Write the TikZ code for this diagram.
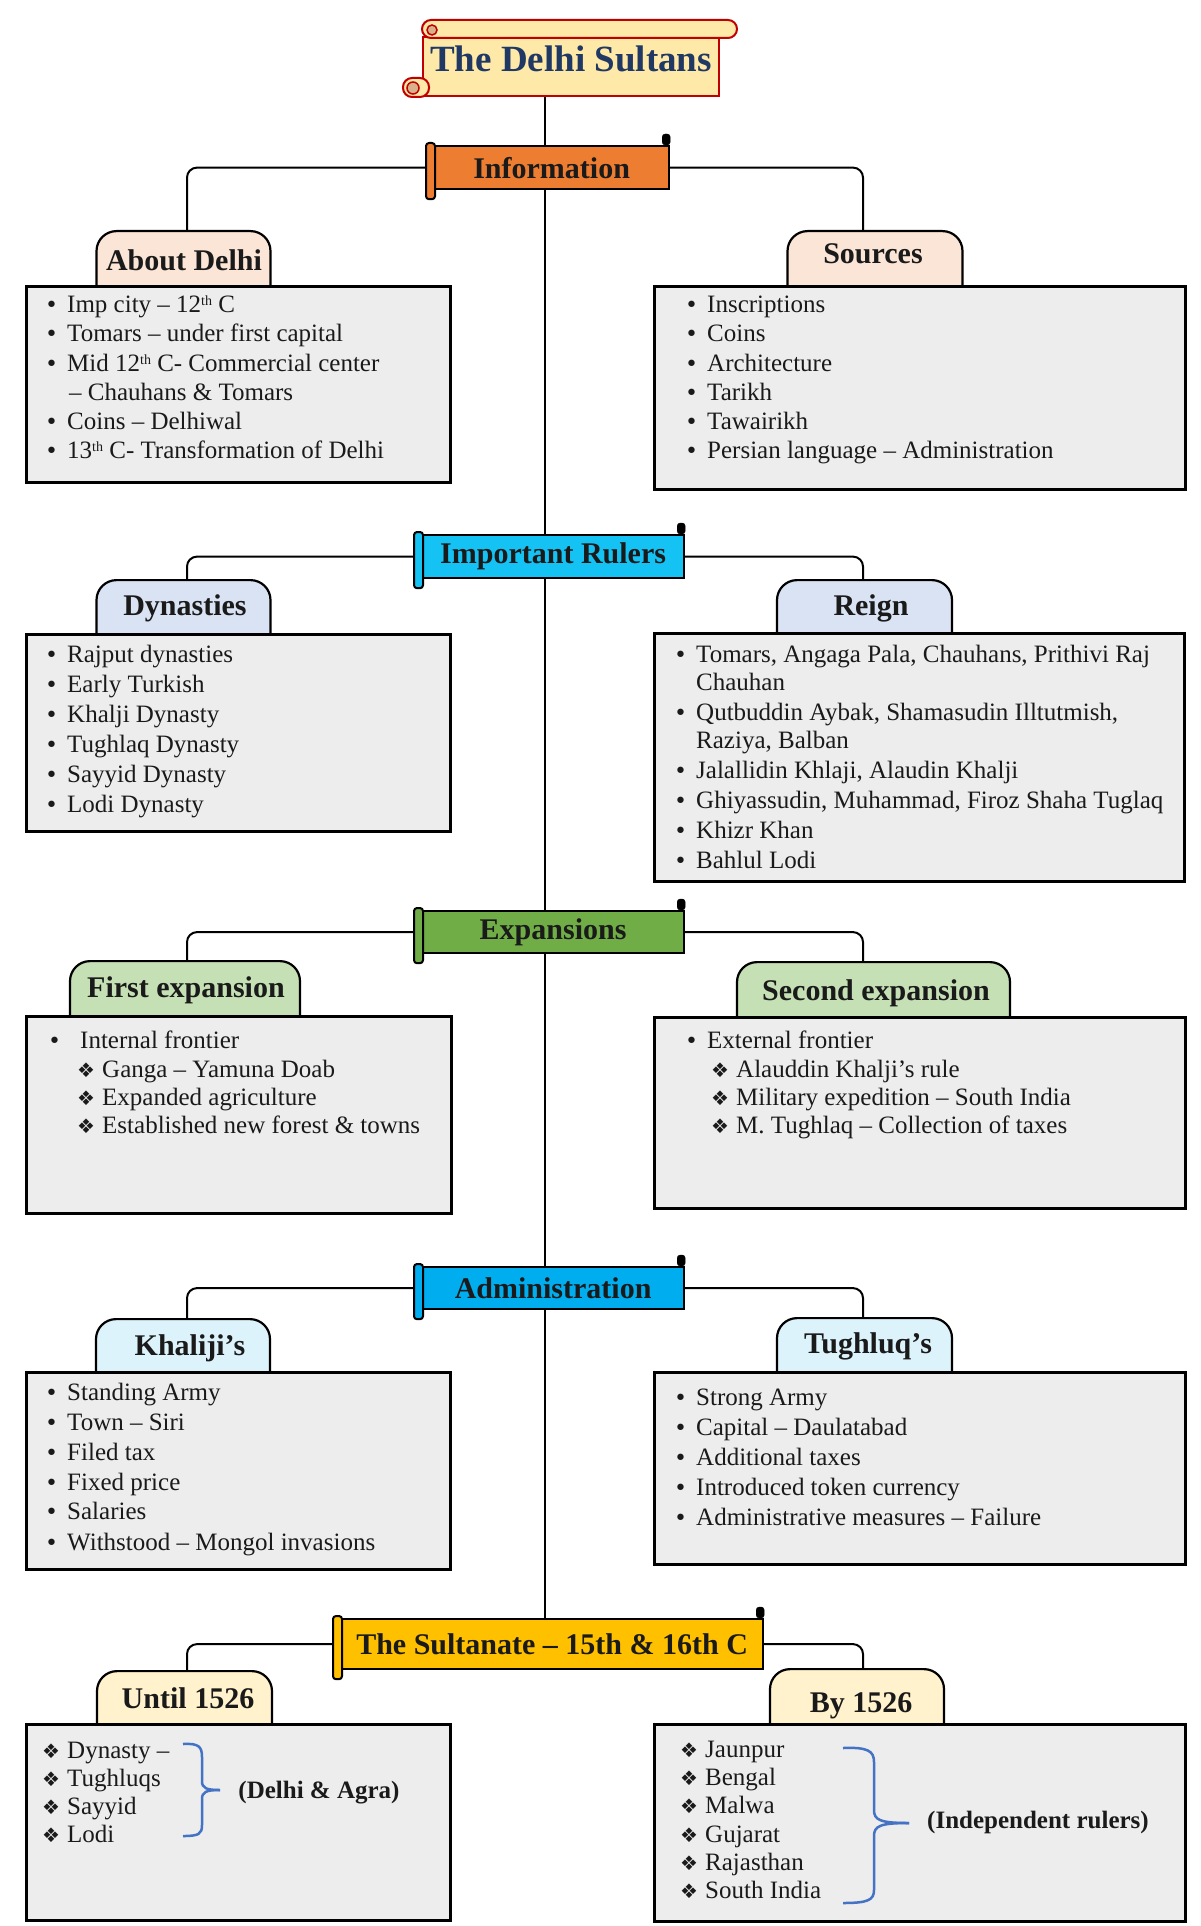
\documentclass[tikz,border=0pt]{standalone}
\usepackage{fontspec}
\setmainfont{Liberation Serif}
\newfontfamily\djv{DejaVu Sans}
\usetikzlibrary{calc}
\pgfdeclarelayer{background}
\pgfsetlayers{background,main}
\definecolor{peach}{HTML}{FBE5D6}
\definecolor{lblue}{HTML}{DAE3F3}
\definecolor{lgreen}{HTML}{C5E0B4}
\definecolor{lcyan}{HTML}{DDF3FC}
\definecolor{lyel}{HTML}{FFF2CC}
\definecolor{boxg}{HTML}{EDEDED}
\definecolor{orng}{HTML}{ED7D31}
\definecolor{cyanA}{HTML}{14C3F4}
\definecolor{cyanB}{HTML}{00AEEF}
\definecolor{grn}{HTML}{70AD47}
\definecolor{gold}{HTML}{FFC000}
\definecolor{tyel}{HTML}{FFE9A8}
\definecolor{dred}{HTML}{C00000}
\definecolor{navy}{HTML}{1F3864}
\definecolor{tanc}{HTML}{D8B08C}
\definecolor{brc}{HTML}{4472C4}
\definecolor{ink}{HTML}{1A1A1A}
\newcommand\bl{\makebox[22pt][l]{\djv\fontsize{22}{22}\selectfont •}}
\newcommand\blw{\makebox[32pt][l]{\djv\fontsize{22}{22}\selectfont •}}
\newcommand\dm{\makebox[25pt][l]{\djv\fontsize{20}{20}\selectfont ❖}}
\newcommand\thsup{\raisebox{7pt}{\fontsize{14}{14}\selectfont th}}
\newcommand\bandeco[2]{%
  \filldraw[fill=#2, draw=black, line width=2pt, rounded corners=3pt]
    ([xshift=-7pt,yshift=2pt]#1.north west) rectangle ([xshift=2pt,yshift=-9pt]#1.south west);
  \filldraw[fill=black, draw=black, rounded corners=3pt]
    ([xshift=-8pt]#1.north east) rectangle ([yshift=11pt]#1.north east);
}
\begin{document}
\begin{tikzpicture}[x=1pt,y=-1pt,
  conn/.style={line width=2pt, draw=black, rounded corners=10pt},
  tabshape/.style={draw=black, line width=2.2pt, rounded corners=20pt, anchor=north, minimum height=75pt, inner sep=0},
  boxshape/.style={draw=black, line width=2.5pt, fill=boxg, anchor=north west, inner sep=0},
  banshape/.style={draw=black, line width=2.2pt, anchor=north west, inner sep=0, font=\bfseries\fontsize{30}{30}\selectfont, text=ink},
  tabtxt/.style={anchor=base, inner sep=0, font=\bfseries\fontsize{30}{30}\selectfont, text=ink},
  txt/.style={anchor=base west, inner sep=0, font=\fontsize{25}{25}\selectfont, text=ink},
  btxt/.style={anchor=base, inner sep=0, font=\bfseries\fontsize{25}{25}\selectfont, text=ink},
  brace/.style={draw=brc, line width=2.5pt}]
\useasboundingbox (0,0) rectangle (1200,1926);

\coordinate (spine) at (545,0);
\coordinate (lx) at (187,0);
\coordinate (rx) at (863,0);

% ---------- title ----------
\node[draw=dred, line width=2pt, fill=tyel, minimum width=296pt, minimum height=59pt, anchor=north west, inner sep=0] (title) at (422,36) {};
\filldraw[fill=tyel, draw=dred, line width=2pt, rounded corners=9pt]
  ([yshift=16pt]title.north west) rectangle ([xshift=17pt,yshift=-2pt]title.north east);
\filldraw[fill=tanc, draw=dred, line width=1.5pt] ([xshift=10pt,yshift=6pt]title.north west) circle (5pt);
\filldraw[fill=tyel, draw=dred, line width=2pt, rounded corners=9pt]
  ([xshift=-19pt,yshift=19pt]title.south west) rectangle ([xshift=7pt]title.south west);
\filldraw[fill=tanc, draw=dred, line width=1.5pt] ([xshift=-9pt,yshift=9pt]title.south west) circle (6pt);
\node[inner sep=0, anchor=base, font=\bfseries\fontsize{37}{37}\selectfont, text=navy] (titletxt) at (571,72) {The Delhi Sultans};

% ---------- banners ----------
\node[banshape, fill=orng, minimum width=235pt, minimum height=43pt] (info) at (433,145) {Information};
\bandeco{info}{orng}
\node[banshape, fill=cyanA, minimum width=262pt, minimum height=43pt] (rulers) at (421,534) {Important Rulers};
\bandeco{rulers}{cyanA}
\node[banshape, fill=grn, minimum width=262pt, minimum height=42pt] (expans) at (421,910) {Expansions};
\bandeco{expans}{grn}
\node[banshape, fill=cyanB, minimum width=262pt, minimum height=42pt] (admin) at (421,1266) {Administration};
\bandeco{admin}{cyanB}
\node[banshape, fill=gold, minimum width=422pt, minimum height=50pt] (sult) at (340,1618) {The Sultanate – 15th \& 16th C};
\bandeco{sult}{gold}

% ---------- tabs ----------
\node[tabshape, fill=peach, minimum width=174pt] (tA) at (183.5,230) {};
\node[tabshape, fill=peach, minimum width=175pt] (tB) at (875,230) {};
\node[tabshape, fill=lblue, minimum width=174pt] (tC) at (183.5,579) {};
\node[tabshape, fill=lblue, minimum width=175pt] (tD) at (864.5,579) {};
\node[tabshape, fill=lgreen, minimum width=230pt] (tE) at (185,960) {};
\node[tabshape, fill=lgreen, minimum width=273pt] (tF) at (873.5,961) {};
\node[tabshape, fill=lcyan, minimum width=174pt] (tG) at (183,1318) {};
\node[tabshape, fill=lcyan, minimum width=175pt] (tH) at (864.5,1317) {};
\node[tabshape, fill=lyel, minimum width=175pt] (tI) at (184.5,1670) {};
\node[tabshape, fill=lyel, minimum width=174pt] (tJ) at (857,1668) {};

% ---------- boxes ----------
\node[boxshape, minimum width=424pt, minimum height=196pt] (bA) at (25,285) {};
\node[boxshape, minimum width=531pt, minimum height=203pt] (bB) at (653,285) {};
\node[boxshape, minimum width=424pt, minimum height=197pt] (bC) at (25,633) {};
\node[boxshape, minimum width=530pt, minimum height=248pt] (bD) at (653,632) {};
\node[boxshape, minimum width=425pt, minimum height=197pt] (bE) at (25,1015) {};
\node[boxshape, minimum width=531pt, minimum height=191pt] (bF) at (653,1016) {};
\node[boxshape, minimum width=424pt, minimum height=197pt] (bG) at (25,1371) {};
\node[boxshape, minimum width=531pt, minimum height=192pt] (bH) at (653,1371) {};
\node[boxshape, minimum width=424pt, minimum height=196pt] (bI) at (25,1723) {};
\node[boxshape, minimum width=531pt, minimum height=197pt] (bJ) at (653,1723) {};

% ---------- connectors ----------
\begin{pgfonlayer}{background}
\fill[white] (0,0) rectangle (1200,1926);
\draw[conn] (title.south -| spine) -- (sult.north -| spine);
\draw[conn] (info.west) -| (tA.north -| lx);
\draw[conn] (info.east) -| (tB.north -| rx);
\draw[conn] (rulers.west) -| (tC.north -| lx);
\draw[conn] (rulers.east) -| (tD.north -| rx);
\draw[conn] (expans.west) -| (tE.north -| lx);
\draw[conn] (expans.east) -| (tF.north -| rx);
\draw[conn] (admin.west) -| (tG.north -| lx);
\draw[conn] (admin.east) -| (tH.north -| rx);
\draw[conn] (sult.west) -| (tI.north -| lx);
\draw[conn] (sult.east) -| (tJ.north -| rx);
\end{pgfonlayer}

% ---------- tab labels ----------
\node[tabtxt] (lA) at (184,270) {About Delhi};
\node[tabtxt] (lB) at (873,263) {Sources};
\node[tabtxt] (lC) at (185,615) {Dynasties};
\node[tabtxt] (lD) at (871,615) {Reign};
\node[tabtxt] (lE) at (186,997) {First expansion};
\node[tabtxt] (lF) at (876,1000) {Second expansion};
\node[tabtxt] (lG) at (190,1355) {Khaliji’s};
\node[tabtxt] (lH) at (868,1353) {Tughluq’s};
\node[tabtxt] (lI) at (188,1708) {Until 1526};
\node[tabtxt] (lJ) at (861,1712) {By 1526};

% ---------- About Delhi ----------
\node[txt] (a1) at (45,312) {\bl Imp city – 12\thsup{} C};
\node[txt] (a2) at (45,341) {\bl Tomars – under first capital};
\node[txt] (a3) at (45,371) {\bl Mid 12\thsup{} C- Commercial center};
\node[txt] (a4) at (69,400) {– Chauhans \& Tomars};
\node[txt] (a5) at (45,429) {\bl Coins – Delhiwal};
\node[txt] (a6) at (45,458) {\bl 13\thsup{} C- Transformation of Delhi};

% ---------- Sources ----------
\node[txt] (s1) at (685,312) {\bl Inscriptions};
\node[txt] (s2) at (685,341) {\bl Coins};
\node[txt] (s3) at (685,371) {\bl Architecture};
\node[txt] (s4) at (685,400) {\bl Tarikh};
\node[txt] (s5) at (685,429) {\bl Tawairikh};
\node[txt] (s6) at (685,458) {\bl Persian language – Administration};

% ---------- Dynasties ----------
\node[txt] (d1) at (45,662) {\bl Rajput dynasties};
\node[txt] (d2) at (45,692) {\bl Early Turkish};
\node[txt] (d3) at (45,722) {\bl Khalji Dynasty};
\node[txt] (d4) at (45,752) {\bl Tughlaq Dynasty};
\node[txt] (d5) at (45,782) {\bl Sayyid Dynasty};
\node[txt] (d6) at (45,812) {\bl Lodi Dynasty};

% ---------- Reign ----------
\node[txt] (r1) at (674,662) {\bl Tomars, Angaga Pala, Chauhans, Prithivi Raj};
\node[txt] (r2) at (696,690) {Chauhan};
\node[txt] (r3) at (674,720) {\bl Qutbuddin Aybak, Shamasudin Illtutmish,};
\node[txt] (r4) at (696,748) {Raziya, Balban};
\node[txt] (r5) at (674,778) {\bl Jalallidin Khlaji, Alaudin Khalji};
\node[txt] (r6) at (674,808) {\bl Ghiyassudin, Muhammad, Firoz Shaha Tuglaq};
\node[txt] (r7) at (674,838) {\bl Khizr Khan};
\node[txt] (r8) at (674,868) {\bl Bahlul Lodi};

% ---------- First expansion ----------
\node[txt] (e1) at (48,1048) {\blw Internal frontier};
\node[txt] (e2) at (77,1077) {\dm Ganga – Yamuna Doab};
\node[txt] (e3) at (77,1105) {\dm Expanded agriculture};
\node[txt] (e4) at (77,1133) {\dm Established new forest \& towns};

% ---------- Second expansion ----------
\node[txt] (f1) at (685,1048) {\bl External frontier};
\node[txt] (f2) at (711,1077) {\dm Alauddin Khalji’s rule};
\node[txt] (f3) at (711,1105) {\dm Military expedition – South India};
\node[txt] (f4) at (711,1133) {\dm M. Tughlaq – Collection of taxes};

% ---------- Khaliji's ----------
\node[txt] (k1) at (45,1400) {\bl Standing Army};
\node[txt] (k2) at (45,1430) {\bl Town – Siri};
\node[txt] (k3) at (45,1460) {\bl Filed tax};
\node[txt] (k4) at (45,1490) {\bl Fixed price};
\node[txt] (k5) at (45,1519) {\bl Salaries};
\node[txt] (k6) at (45,1550) {\bl Withstood – Mongol invasions};

% ---------- Tughluq's ----------
\node[txt] (h1) at (674,1405) {\bl Strong Army};
\node[txt] (h2) at (674,1435) {\bl Capital – Daulatabad};
\node[txt] (h3) at (674,1465) {\bl Additional taxes};
\node[txt] (h4) at (674,1495) {\bl Introduced token currency};
\node[txt] (h5) at (674,1525) {\bl Administrative measures – Failure};

% ---------- Until 1526 ----------
\node[txt] (u1) at (42,1758) {\dm Dynasty –};
\node[txt] (u2) at (42,1786) {\dm Tughluqs};
\node[txt] (u3) at (42,1814) {\dm Sayyid};
\node[txt] (u4) at (42,1842) {\dm Lodi};
\draw[brace] (183,1744) .. controls (199,1743) and (202,1747) .. (202,1757) -- (202,1781)
  .. controls (202,1788) and (206,1790) .. (220,1790);
\draw[brace] (220,1790) .. controls (206,1790) and (202,1792) .. (202,1799) -- (202,1825)
  .. controls (202,1834) and (199,1836) .. (183,1836);
\node[btxt] (u5) at (319,1798) {(Delhi \& Agra)};

% ---------- By 1526 ----------
\node[txt] (y1) at (680,1757) {\dm Jaunpur};
\node[txt] (y2) at (680,1785) {\dm Bengal};
\node[txt] (y3) at (680,1813) {\dm Malwa};
\node[txt] (y4) at (680,1842) {\dm Gujarat};
\node[txt] (y5) at (680,1870) {\dm Rajasthan};
\node[txt] (y6) at (680,1898) {\dm South India};
\draw[brace] (843,1748) .. controls (868,1747) and (874,1751) .. (874,1762) -- (874,1810)
  .. controls (874,1820) and (880,1823) .. (909,1823);
\draw[brace] (909,1823) .. controls (880,1823) and (874,1826) .. (874,1836) -- (874,1890)
  .. controls (874,1900) and (868,1903) .. (843,1903);
\node[btxt] (y7) at (1038,1828) {(Independent rulers)};
\end{tikzpicture}
\end{document}
